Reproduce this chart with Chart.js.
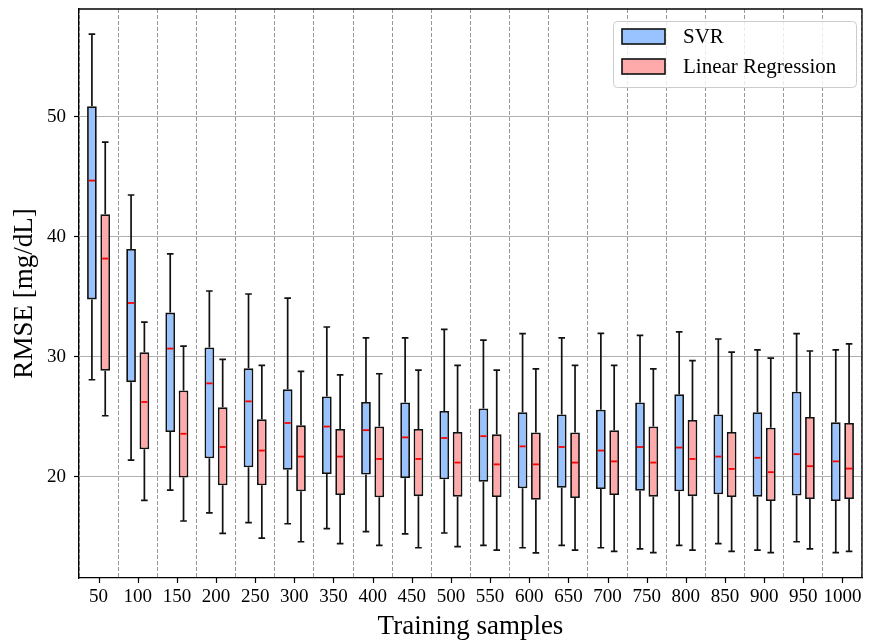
<!DOCTYPE html>
<html><head><meta charset="utf-8">
<script src="https://cdn.jsdelivr.net/npm/chart.js@4.4.0/dist/chart.umd.min.js"></script>
<style>html,body{margin:0;padding:0;background:#fff;}canvas{display:block;}</style>
</head><body>
<canvas id="c" width="869" height="641"></canvas>
<script>
const categories = ['50','100','150','200','250','300','350','400','450','500','550','600','650','700','750','800','850','900','950','1000'];

const svrMin    = [28.1, 21.4, 18.9, 17.0, 16.2, 16.1, 15.7, 15.45, 15.25, 15.33, 14.3, 14.1, 14.3, 14.1, 14.0, 14.3, 14.45, 13.9, 14.6, 13.7];
const svrQ1     = [34.8, 27.9, 23.75, 21.55, 20.8, 20.6, 20.25, 20.2, 19.9, 19.8, 19.6, 19.05, 19.1, 19.0, 18.86, 18.8, 18.55, 18.36, 18.45, 18.0];
const svrMedian = [44.7, 34.5, 30.7, 27.8, 26.3, 24.5, 24.2, 23.9, 23.3, 23.25, 23.4, 22.55, 22.5, 22.2, 22.5, 22.45, 21.7, 21.6, 21.9, 21.3];
const svrQ3     = [50.9, 39.0, 33.7, 30.8, 29.05, 27.3, 26.7, 26.25, 26.2, 25.5, 25.7, 25.4, 25.2, 25.6, 26.2, 26.9, 25.2, 25.4, 27.1, 24.55];
const svrMax    = [56.9, 43.5, 38.6, 35.5, 35.25, 34.9, 32.5, 31.6, 31.6, 32.3, 31.4, 31.95, 31.6, 31.97, 31.8, 32.1, 31.5, 30.6, 31.95, 30.6];

const lrMin    = [25.1, 18.05, 16.33, 15.3, 14.9, 14.6, 14.45, 14.3, 14.1, 14.2, 13.9, 13.67, 13.9, 13.8, 13.7, 13.9, 13.8, 13.7, 14.0, 13.8];
const lrQ1     = [28.86, 22.3, 19.95, 19.3, 19.3, 18.8, 18.5, 18.3, 18.4, 18.36, 18.33, 18.1, 18.25, 18.5, 18.36, 18.4, 18.33, 18.0, 18.17, 18.17];
const lrMedian = [38.2, 26.25, 23.6, 22.5, 22.2, 21.7, 21.7, 21.5, 21.5, 21.2, 21.05, 21.05, 21.2, 21.3, 21.2, 21.5, 20.67, 20.4, 20.9, 20.7];
const lrQ3     = [41.9, 30.4, 27.2, 25.8, 24.8, 24.3, 24.0, 24.2, 24.0, 23.75, 23.55, 23.7, 23.7, 23.9, 24.2, 24.75, 23.75, 24.1, 25.0, 24.5];
const lrMax    = [47.9, 32.9, 30.9, 29.8, 29.3, 28.8, 28.5, 28.6, 28.9, 29.3, 28.9, 29.0, 29.3, 29.3, 29.0, 29.7, 30.4, 29.9, 30.5, 31.1];

const yTicks = [20, 30, 40, 50];
const seriesNames = ['SVR', 'Linear Regression'];
const seriesColors = ['#99c3ff', '#ffaaaa'];

const FONT = "'Liberation Serif', 'Times New Roman', serif";
Chart.defaults.color = '#000';
Chart.defaults.font.family = FONT;

const stats = [
  {min: svrMin, q1: svrQ1, med: svrMedian, q3: svrQ3, max: svrMax},
  {min: lrMin, q1: lrQ1, med: lrMedian, q3: lrQ3, max: lrMax}
];

function zeroPad(s) { s.paddingTop = 0; s.paddingBottom = 0; s.paddingLeft = 0; s.paddingRight = 0; }

const boxExtras = {
  id: 'boxExtras',
  afterDatasetsDraw(chart) {
    const ctx = chart.ctx;
    const y = chart.scales.y;
    ctx.save();
    stats.forEach((s, d) => {
      const meta = chart.getDatasetMeta(d);
      meta.data.forEach((el, i) => {
        const x = el.x, w = el.width;
        const cap = w * 0.34;
        const yMax = y.getPixelForValue(s.max[i]);
        const yMin = y.getPixelForValue(s.min[i]);
        ctx.strokeStyle = '#111';
        ctx.lineWidth = 1.7;
        ctx.beginPath();
        ctx.moveTo(x, y.getPixelForValue(s.q3[i]));
        ctx.lineTo(x, yMax);
        ctx.moveTo(x - cap, yMax);
        ctx.lineTo(x + cap, yMax);
        ctx.moveTo(x, y.getPixelForValue(s.q1[i]));
        ctx.lineTo(x, yMin);
        ctx.moveTo(x - cap, yMin);
        ctx.lineTo(x + cap, yMin);
        ctx.stroke();
        ctx.strokeStyle = '#ff0000';
        ctx.lineWidth = 1.8;
        ctx.beginPath();
        const ym = y.getPixelForValue(s.med[i]);
        ctx.moveTo(x - w / 2 + 1.8, ym);
        ctx.lineTo(x + w / 2 - 1.8, ym);
        ctx.stroke();
      });
    });
    ctx.restore();
  },
  afterDraw(chart) {
    const ctx = chart.ctx;
    const a = chart.chartArea;
    const xs = chart.scales.x;
    ctx.save();
    ctx.strokeStyle = '#000';
    ctx.lineWidth = 1.3;
    ctx.beginPath();
    ctx.moveTo(a.left, a.top);
    ctx.lineTo(a.right, a.top);
    ctx.lineTo(a.right, a.bottom);
    ctx.stroke();
    ctx.lineWidth = 1.2;
    ctx.beginPath();
    categories.forEach((c, i) => {
      const px = Math.round(xs.getPixelForValue(i)) + 0.5;
      ctx.moveTo(px, a.bottom);
      ctx.lineTo(px, a.bottom + 5);
    });
    ctx.stroke();
    const lx = 613, ly = 21, lw = 243, lh = 66;
    ctx.beginPath();
    ctx.roundRect(lx + 0.5, ly + 0.5, lw, lh, 4);
    ctx.fillStyle = 'rgba(255,255,255,0.8)';
    ctx.fill();
    ctx.strokeStyle = '#cccccc';
    ctx.lineWidth = 1;
    ctx.stroke();
    ctx.font = '21px ' + FONT;
    ctx.textBaseline = 'middle';
    ctx.textAlign = 'left';
    seriesNames.forEach((name, k) => {
      const py = 29 + k * 30;
      ctx.fillStyle = seriesColors[k];
      ctx.fillRect(622, py, 43, 15);
      ctx.strokeStyle = '#111';
      ctx.lineWidth = 1.6;
      ctx.strokeRect(622, py, 43, 15);
      ctx.fillStyle = '#000';
      ctx.fillText(name, 683, py + 8);
    });
    ctx.restore();
  }
};

new Chart(document.getElementById('c'), {
  type: 'bar',
  data: {
    labels: categories,
    datasets: stats.map((s, d) => ({
      label: seriesNames[d],
      data: s.q1.map((v, i) => [v, s.q3[i]]),
      backgroundColor: seriesColors[d],
      borderColor: '#111',
      borderWidth: 1.8,
      borderSkipped: false,
      categoryPercentage: 0.68,
      barPercentage: 0.73
    }))
  },
  options: {
    responsive: false,
    animation: false,
    devicePixelRatio: 1,
    layout: {padding: {left: 0, top: 9, right: 7, bottom: 0}},
    plugins: {legend: {display: false}, tooltip: {enabled: false}},
    scales: {
      x: {
        type: 'category',
        offset: true,
        afterFit(s) { s.height = 63; zeroPad(s); },
        grid: {offset: true, color: '#999999', lineWidth: 1, drawTicks: false},
        border: {display: true, color: '#000', width: 1.3, dash: [4, 2]},
        ticks: {font: {size: 19, family: FONT}, color: '#000', padding: 8, maxRotation: 0, autoSkip: false},
        title: {display: true, text: 'Training samples', font: {size: 27, family: FONT, lineHeight: 1}, color: '#000', padding: {top: 0, bottom: 1}}
      },
      y: {
        min: 11.58,
        max: 59,
        afterFit(s) { s.width = 79; zeroPad(s); },
        afterBuildTicks(s) { s.ticks = yTicks.map(v => ({value: v})); },
        grid: {color: '#b0b0b0', lineWidth: 1, drawTicks: true, tickLength: 5, tickColor: '#000', tickWidth: 1.2},
        border: {display: true, color: '#000', width: 1.3},
        ticks: {font: {size: 19, family: FONT}, color: '#000', padding: 8},
        title: {display: true, text: 'RMSE [mg/dL]', font: {size: 27, family: FONT, lineHeight: 1.2}, color: '#000', padding: {top: 9, bottom: 0}}
      }
    }
  },
  plugins: [boxExtras]
});
</script>
</body></html>
